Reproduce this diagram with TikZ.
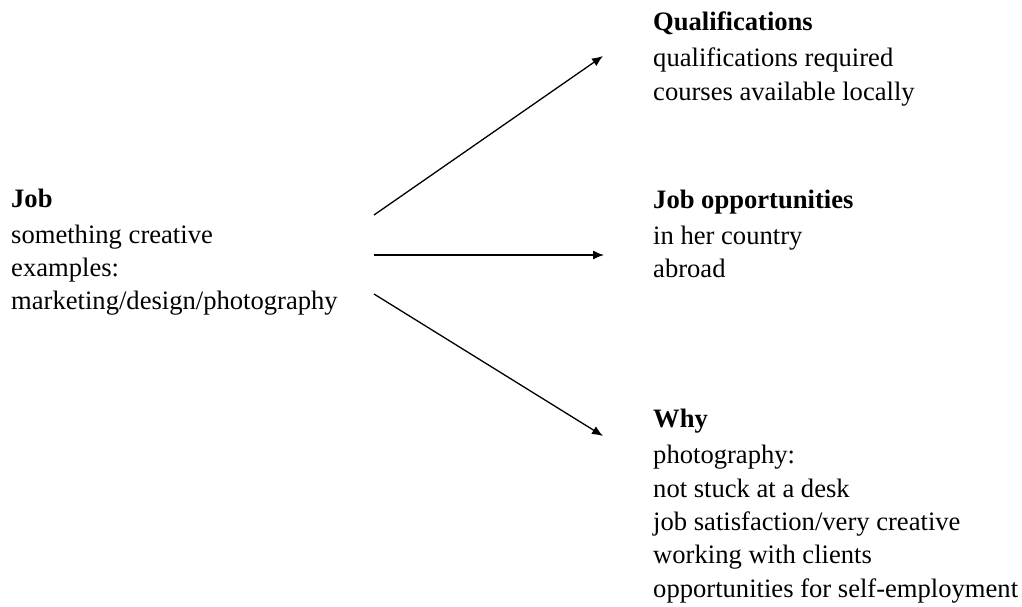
\documentclass[tikz,border=0pt]{standalone}
\usepackage{fontspec}
\setmainfont{Liberation Serif}
\usetikzlibrary{arrows.meta}
\begin{document}
\begin{tikzpicture}[x=1pt,y=-1pt,
  block/.style={anchor=base west,inner sep=0pt,align=left,
    font=\fontsize{26.6}{33.3}\selectfont},
  link/.style={line width=1.3pt,-{Latex[length=11pt,width=9pt]}}]
\useasboundingbox (0,0) rectangle (1022,607);
% base anchor = baseline of the last line
\node[block] (job) at (11,309.6) {\textbf{Job}\\[2.7pt]something creative\\examples:\\marketing/design/photography};
\node[block] (qual) at (653,100.3) {\textbf{Qualifications}\\[2.7pt]qualifications required\\courses available locally};
\node[block] (opp) at (653,277.3) {\textbf{Job opportunities}\\[2.7pt]in her country\\abroad};
\node[block] (why) at (653,597) {\textbf{Why}\\[2.7pt]photography:\\not stuck at a desk\\job satisfaction/very creative\\working with clients\\opportunities for self-employment};
\coordinate (jobA) at (374,215);
\coordinate (jobB) at (374,255);
\coordinate (jobC) at (374,294);
\coordinate (qualIn) at (603,56);
\coordinate (oppIn) at (604,255);
\coordinate (whyIn) at (603,436);
\draw[link] (jobA) -- (qualIn);
\draw[link] (jobB) -- (oppIn);
\draw[link] (jobC) -- (whyIn);
\end{tikzpicture}
\end{document}
